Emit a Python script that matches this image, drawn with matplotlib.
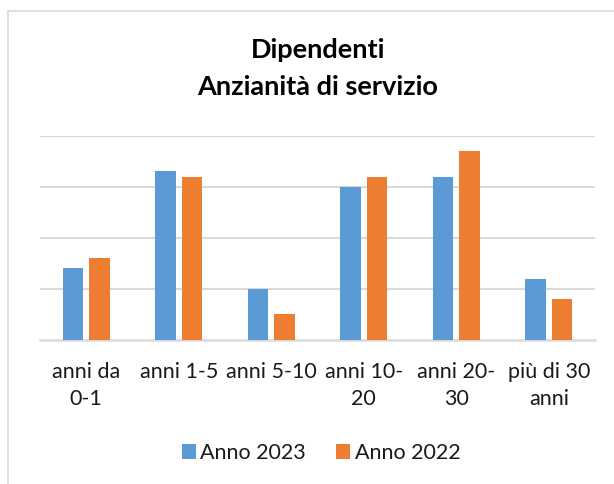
import matplotlib
matplotlib.use("Agg")
import matplotlib.pyplot as plt
from matplotlib.patches import Rectangle
import numpy as np

categories = ["anni da\n0-1", "anni 1-5", "anni 5-10", "anni 10-\n20", "anni 20-\n30", "più di 30\nanni"]
series_names = ["Anno 2023", "Anno 2022"]
anno_2023 = [14, 33, 10, 30, 32, 12]
anno_2022 = [16, 32, 5, 32, 37, 8]
title_lines = ["Dipendenti", "Anzianità di servizio"]

plt.rcParams['font.family'] = ['Lato', 'DejaVu Sans']

W, H = 614, 484
fig = plt.figure(figsize=(W / 100, H / 100), dpi=100)
fig.patch.set_facecolor('white')

# chart border
fig.patches.append(Rectangle((8 / W, -0.1), 1.2, 1 - 11 / H + 0.1, transform=fig.transFigure,
                             fill=False, edgecolor='#d9d9d9', linewidth=1.2))

left, right = 40 / W, 595 / W
bottom, top = 1 - 340 / H, 1 - 135.7 / H
ax = fig.add_axes([left, bottom, right - left, top - bottom])

x = np.arange(len(categories))
bw = 0.224
off = 0.144
blue = '#5B9BD5'
orange = '#ED7D31'
ax.bar(x - off, anno_2023, width=bw, color=blue, label=series_names[0], zorder=3)
ax.bar(x + off, anno_2022, width=bw, color=orange, label=series_names[1], zorder=3)

ax.set_xlim(-0.5, len(categories) - 0.5)
ax.set_ylim(0, 40)
ax.set_yticks([10, 20, 30, 40])
ax.yaxis.grid(True, color='#d9d9d9', linewidth=1.5, zorder=0)
ax.set_axisbelow(True)
ax.tick_params(axis='y', left=False, labelleft=False)
for s in ['top', 'right', 'left']:
    ax.spines[s].set_visible(False)
ax.spines['bottom'].set_color('#d9d9d9')
ax.spines['bottom'].set_linewidth(1.8)

ax.set_xticks(x)
ax.set_xticklabels(categories, fontsize=15.5, color='#1a1a1a', linespacing=1.45, va='top')
ax.tick_params(axis='x', length=0, pad=16)

fig.text(0.518, 1 - 50 / H, title_lines[0], ha='center', va='center', fontsize=19.5, fontweight='bold')
fig.text(0.518, 1 - 87 / H, title_lines[1], ha='center', va='center', fontsize=19.5, fontweight='bold')

leg = fig.legend(loc='center', bbox_to_anchor=(0.523, 1 - 453 / H), ncol=2, frameon=False,
                 fontsize=15.5, handlelength=0.65, handleheight=0.65, handletextpad=0.2,
                 columnspacing=1.4)
for t in leg.get_texts():
    t.set_color('#1a1a1a')

fig.savefig('out.png', dpi=100, facecolor='white')
